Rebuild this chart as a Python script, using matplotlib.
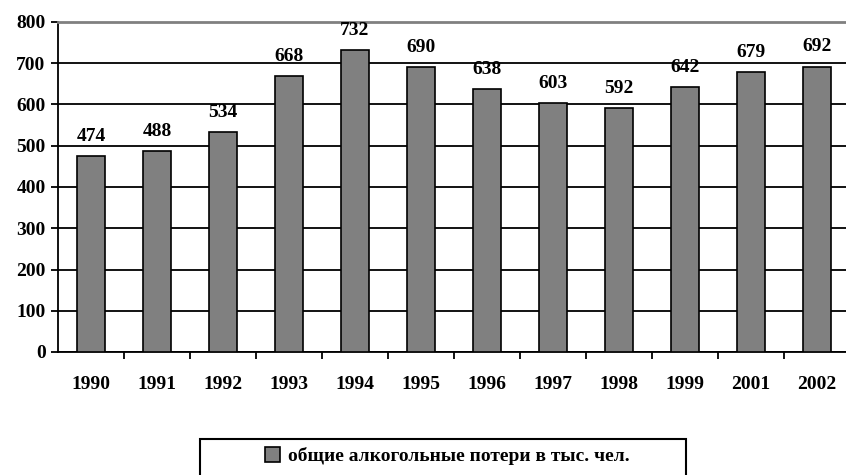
import matplotlib.pyplot as plt
from matplotlib.patches import Rectangle
import numpy as np

years = ['1990', '1991', '1992', '1993', '1994', '1995', '1996', '1997', '1998', '1999', '2001', '2002']
losses = [474, 488, 534, 668, 732, 690, 638, 603, 592, 642, 679, 692]
legend_label = 'общие алкогольные потери в тыс. чел.'

plt.rcParams['font.family'] = ['Liberation Serif', 'DejaVu Serif']
plt.rcParams['font.weight'] = 'bold'

fig = plt.figure(figsize=(8.46, 4.75), dpi=100)
ax = fig.add_axes([58 / 846, 123 / 475, 792 / 846, 330 / 475])

x = np.arange(len(years))
ax.bar(x, losses, width=0.41, color='#808080', edgecolor='black', linewidth=1.2,
       label=legend_label, zorder=3)

for xi, v in zip(x, losses):
    ax.annotate(str(v), (xi, v), xytext=(0, 8), textcoords='offset points',
                ha='center', va='bottom', fontsize=14, fontweight='bold', zorder=4)

ax.set_xlim(-0.5, len(years) - 0.5)
ax.set_ylim(0, 800)
ax.set_yticks(range(0, 801, 100))
ax.set_xticks(x)
ax.set_xticklabels(years)
ax.set_xticks(np.arange(0.5, len(years) - 0.5, 1), minor=True)

ax.grid(axis='y', color='black', linewidth=1.3, zorder=0)
ax.spines['right'].set_visible(False)
ax.spines['top'].set_color('#808080')
ax.spines['top'].set_linewidth(2)
ax.spines['left'].set_linewidth(1.3)
ax.spines['bottom'].set_linewidth(1.3)

ax.tick_params(axis='x', which='major', length=0, pad=17, labelsize=14)
ax.tick_params(axis='x', which='minor', length=5, width=1.3, direction='out')
ax.tick_params(axis='y', length=5, width=1.3, labelsize=14, pad=4)

# legend box, cut off at the bottom edge like the original
fig.patches.append(Rectangle((200 / 846, -0.05), 486 / 846, 1 - 439 / 475 + 0.05,
                             transform=fig.transFigure, fill=False,
                             edgecolor='black', linewidth=1.5))
leg = fig.legend(loc='center', bbox_to_anchor=(447 / 846, 1 - 456 / 475),
                 fontsize=14, frameon=False, borderpad=0,
                 handlelength=0.8, handleheight=0.8, handletextpad=0.4, borderaxespad=0)
leg.get_texts()[0].set_fontweight('bold')

fig.savefig('out.png', dpi=100)
